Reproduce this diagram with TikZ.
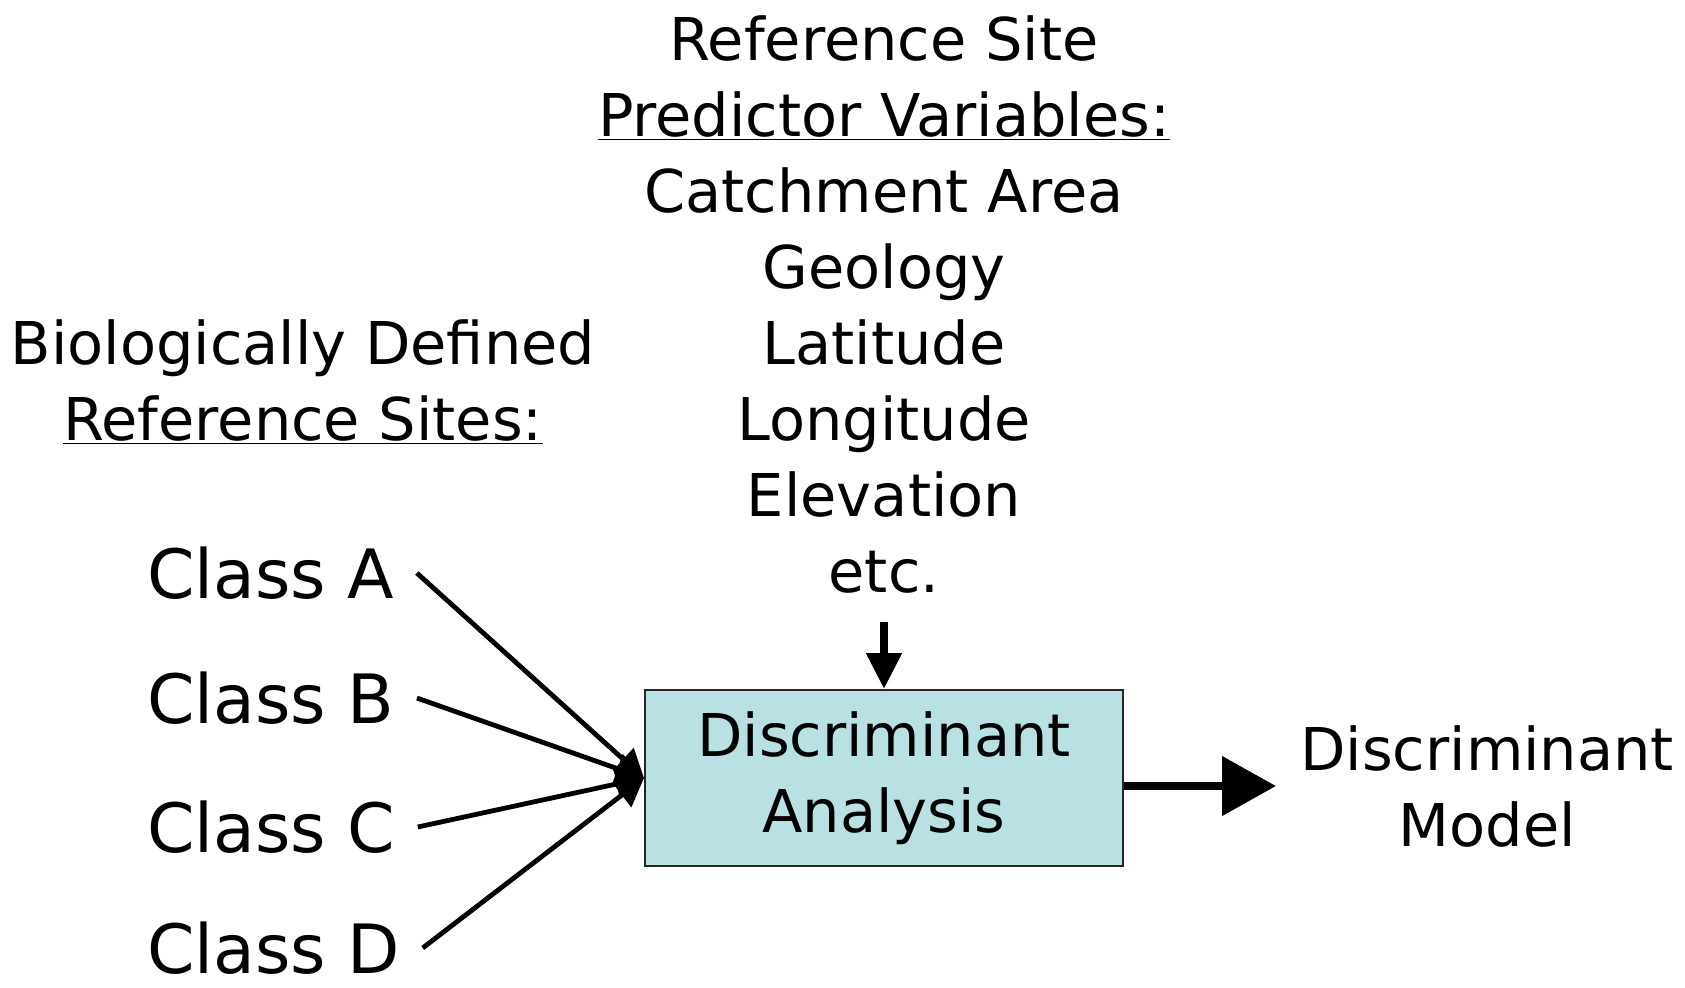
\documentclass[tikz,border=0pt]{standalone}
\usepackage{fontspec}
\setmainfont{DejaVu Sans}
\usetikzlibrary{arrows.meta,positioning,calc}
\definecolor{boxfill}{RGB}{185,224,227}

\begin{document}
\begin{tikzpicture}[
    x=0.5pt, y=-0.5pt,
    txt/.style={align=center, font=\fontsize{29.5}{38}\selectfont, inner sep=0pt},
    classlbl/.style={anchor=west, font=\fontsize{34}{40}\selectfont, inner ysep=0pt, inner xsep=11pt},
    analysis/.style={rectangle, draw=black!85, line width=1pt, fill=boxfill, minimum width=239pt, minimum height=88pt, align=center, font=\fontsize{29.5}{38}\selectfont},
    feed/.style={-{Triangle[length=14pt,width=15pt]}, line width=2.4pt},
    inarr/.style={-{Triangle[length=18pt,width=17pt]}, line width=4pt},
    outarr/.style={-{Triangle[length=27pt,width=29pt]}, line width=4pt}
    ]
    \useasboundingbox (0,0) rectangle (1685,987);

    % Predictor variables
    \node[txt] (pred) at (884,304) {Reference Site\\\underline{Predictor Variables:}\\Catchment Area\\Geology\\Latitude\\Longitude\\Elevation\\etc.};
    \coordinate (predend) at (884,622);

    % Reference sites
    \node[txt] (refs) at (303,382) {Biologically Defined\\\underline{Reference Sites:}};

    % Classes
    \node[classlbl] (ca) at (125,573) {Class A};
    \node[classlbl] (cb) at (125,698) {Class B};
    \node[classlbl] (cc) at (125,827) {Class C};
    \node[classlbl] (cd) at (125,948) {Class D};

    % Analysis and model
    \node[analysis] (da) at (884,778) {Discriminant\\Analysis};
    \node[txt, anchor=west] (dm) at (1300,786) {Discriminant\\Model};

    % Arrows
    \draw[feed] (ca.east) -- (da.west);
    \draw[feed] (cb.east) -- (da.west);
    \draw[feed] (cc.east) -- (da.west);
    \draw[feed] (cd.east) -- (da.west);
    \draw[inarr] (predend) -- (da.north);
    \draw[outarr] (da.east |- dm.west) -- ([xshift=-12pt]dm.west);

\end{tikzpicture}
\end{document}
